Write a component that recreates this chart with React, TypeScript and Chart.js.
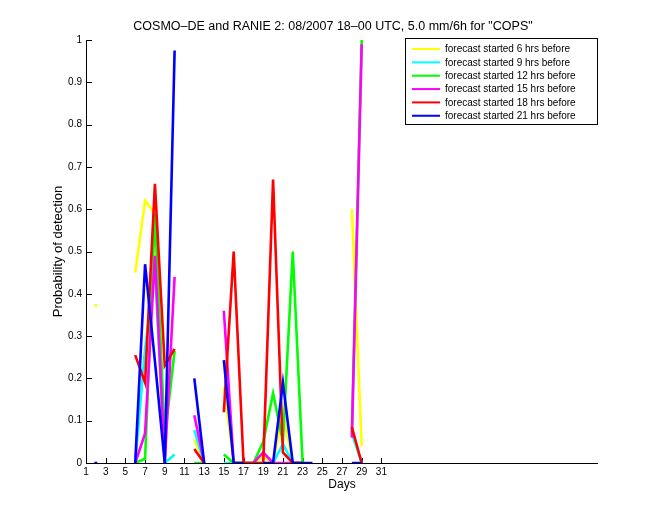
import React, { useEffect, useRef } from "react";
import { Chart, registerables } from "chart.js";

Chart.register(...registerables);

const n = null;

// Days on the x axis (one value per day)
const days = [1, 2, 3, 4, 5, 6, 7, 8, 9, 10, 11, 12, 13, 14, 15, 16, 17, 18, 19, 20, 21, 22, 23, 24, 25, 26, 27, 28, 29, 30, 31];

// Probability of detection, per forecast lead
const fc06 = [n, 0.373, n, n, n, 0.45, 0.62, 0.59, 0.0, 0.02, n, 0.056, 0, n, 0.18, 0, 0, 0, 0.015, 0, 0.12, 0, 0, n, n, n, n, 0.6, 0.04, n, n];
const fc09 = [n, n, n, n, n, 0, 0.27, 0.46, 0, 0.02, n, 0.078, 0, n, 0, 0, 0, 0, 0, 0, 0.045, 0, 0, n, n, n, n, 0.07, 0, n, n];
const fc12 = [n, n, n, n, n, 0, 0.01, 0.59, 0.06, 0.265, n, 0, 0, n, 0.02, 0, 0, 0, 0.05, 0.165, 0.05, 0.5, 0, n, n, n, n, 0.07, 1.0, n, n];
const fc15 = [n, n, n, n, n, 0, 0.07, 0.49, 0, 0.44, n, 0.113, 0, n, 0.36, 0, 0, 0, 0.025, 0, 0, 0, 0, n, n, n, n, 0.06, 0.99, n, n];
const fc18 = [n, n, n, n, n, 0.255, 0.19, 0.66, 0.23, 0.27, n, 0.033, 0, n, 0.12, 0.5, 0, 0, 0, 0.67, 0.025, 0, 0, n, n, n, n, 0.085, 0, n, n];
const fc21 = [n, 0, n, n, n, 0, 0.47, 0.24, 0, 0.975, n, 0.2, 0, n, 0.243, 0, 0, n, 0, 0, 0.19, 0, 0, 0, n, n, n, 0, 0, n, n];

const seriesLabels = [
  "forecast started 6 hrs before",
  "forecast started 9 hrs before",
  "forecast started 12 hrs before",
  "forecast started 15 hrs before",
  "forecast started 18 hrs before",
  "forecast started 21 hrs before",
];
const seriesData = [fc06, fc09, fc12, fc15, fc18, fc21];
const seriesColors = ["#ffff00", "#00ffff", "#00ff00", "#ff00ff", "#ff0000", "#0000ff"];

// Axis ticks
const xTickValues = [1, 3, 5, 7, 9, 11, 13, 15, 17, 19, 21, 23, 25, 27, 29, 31];
const yTickValues = [0, 0.1, 0.2, 0.3, 0.4, 0.5, 0.6, 0.7, 0.8, 0.9, 1];

const titleText = 'COSMO\u2013DE and RANIE 2: 08/2007 18\u201300 UTC, 5.0 mm/6h for "COPS"';
const xTitle = "Days";
const yTitle = "Probability of detection";

const FONT = '"Liberation Sans", Arial, Helvetica, sans-serif';

const overlayPlugin = {
  id: "matlabOverlay",
  beforeDatasetsDraw(chart: any) {
    const { ctx, chartArea, scales } = chart;
    const { left, right, top, bottom } = chartArea;
    ctx.save();
    ctx.strokeStyle = "#000";
    ctx.lineWidth = 1;
    ctx.beginPath();
    // axis lines
    ctx.moveTo(left + 0.5, top);
    ctx.lineTo(left + 0.5, bottom + 1);
    ctx.moveTo(left, bottom + 0.5);
    ctx.lineTo(right, bottom + 0.5);
    // inward ticks
    for (const v of xTickValues) {
      const px = Math.round(scales.x.getPixelForValue(v)) + 0.5;
      ctx.moveTo(px, bottom);
      ctx.lineTo(px, bottom - 5);
    }
    for (const v of yTickValues) {
      const py = Math.round(scales.y.getPixelForValue(v)) + 0.5;
      ctx.moveTo(left, py);
      ctx.lineTo(left + 6, py);
    }
    ctx.stroke();

    ctx.fillStyle = "#000";
    // title
    ctx.font = `12.5px ${FONT}`;
    ctx.textAlign = "center";
    ctx.textBaseline = "alphabetic";
    ctx.fillText(titleText, (left + right) / 2 - 9, 30);
    // x title
    ctx.font = `12px ${FONT}`;
    ctx.fillText(xTitle, (left + right) / 2, 488);
    // y title
    ctx.save();
    ctx.translate(58, (top + bottom) / 2);
    ctx.rotate(-Math.PI / 2);
    ctx.font = `13px ${FONT}`;
    ctx.textBaseline = "middle";
    ctx.fillText(yTitle, 0, 0);
    ctx.restore();
    ctx.restore();
  },
  afterDatasetsDraw(chart: any) {
    const { ctx } = chart;
    const bx = 405.5, by = 38.5, bw = 192, bh = 86;
    ctx.save();
    ctx.fillStyle = "#fff";
    ctx.fillRect(bx, by, bw, bh);
    ctx.strokeStyle = "#000";
    ctx.lineWidth = 1;
    ctx.strokeRect(bx, by, bw, bh);
    ctx.font = `10px ${FONT}`;
    ctx.textAlign = "left";
    ctx.textBaseline = "middle";
    seriesLabels.forEach((lab, i) => {
      const y = by + 10.5 + i * 13.35;
      ctx.strokeStyle = seriesColors[i];
      ctx.lineWidth = 2;
      ctx.beginPath();
      ctx.moveTo(412, y);
      ctx.lineTo(440, y);
      ctx.stroke();
      ctx.fillStyle = "#000";
      ctx.fillText(lab, 445, y + 0.5);
    });
    ctx.restore();
  },
};

export default function App() {
  const canvasRef = useRef<HTMLCanvasElement | null>(null);

  useEffect(() => {
    const canvas = canvasRef.current;
    if (!canvas) return;
    Chart.defaults.font.family = FONT;

    const datasets = seriesData.map((arr, i) => ({
      label: seriesLabels[i],
      data: days.map((d, j) => ({ x: d, y: arr[j] })),
      borderColor: seriesColors[i],
      backgroundColor: seriesColors[i],
      borderWidth: 2.6,
      fill: false,
      tension: 0,
      spanGaps: false,
      order: seriesData.length - i,
      pointStyle: "line",
      pointBorderColor: seriesColors[i],
      pointBorderWidth: 2.6,
      pointRadius: (c: any) => {
        const j = c.dataIndex;
        if (arr[j] == null) return 0;
        const prev = j > 0 ? arr[j - 1] : null;
        const next = j < arr.length - 1 ? arr[j + 1] : null;
        return prev == null && next == null ? 1.5 : 0;
      },
      pointHoverRadius: 0,
    }));

    const chart = new Chart(canvas, {
      type: "line",
      data: { datasets },
      options: {
        responsive: false,
        animation: false,
        events: [],
        layout: { padding: { top: 40, right: 62, left: 0, bottom: 0 } },
        plugins: {
          legend: { display: false },
          title: { display: false },
          tooltip: { enabled: false },
        },
        scales: {
          x: {
            type: "linear",
            min: 1,
            max: 53,
            afterBuildTicks: (s: any) => {
              s.ticks = xTickValues.map((v) => ({ value: v }));
            },
            afterFit: (s: any) => {
              s.height = 57;
            },
            ticks: {
              autoSkip: false,
              maxRotation: 0,
              padding: 3,
              color: "#000",
              font: { size: 10, family: FONT },
              callback: (v: any) => String(v),
            },
            grid: { display: false, drawTicks: false },
            border: { display: false },
          },
          y: {
            type: "linear",
            min: 0,
            max: 1,
            afterBuildTicks: (s: any) => {
              s.ticks = yTickValues.map((v) => ({ value: v }));
            },
            afterFit: (s: any) => {
              s.width = 86;
            },
            ticks: {
              autoSkip: false,
              padding: 4,
              color: "#000",
              font: { size: 10, family: FONT },
              callback: (v: any) => String(v),
            },
            grid: { display: false, drawTicks: false },
            border: { display: false },
          },
        },
      },
      plugins: [overlayPlugin],
    });

    return () => chart.destroy();
  }, []);

  return (
    <div style={{ position: "absolute", left: 0, top: 0, width: 660, height: 520, background: "#fff" }}>
      <canvas ref={canvasRef} width={660} height={520} />
    </div>
  );
}
